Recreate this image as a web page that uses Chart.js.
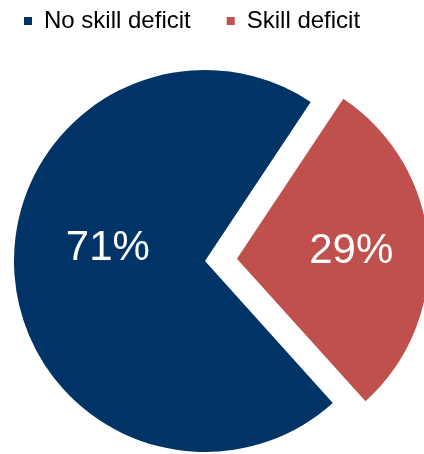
<!DOCTYPE html>
<html>
<head>
<meta charset="utf-8">
<script src="https://cdn.jsdelivr.net/npm/chart.js@4/dist/chart.umd.min.js"></script>
<style>
  html, body { margin: 0; padding: 0; background: #ffffff; }
  #wrap { width: 424px; height: 454px; position: relative; }
</style>
</head>
<body>
<div id="wrap"><canvas id="pie"></canvas></div>
<script>
// Share of respondents by skill status
const categories = ['No skill deficit', 'Skill deficit'];
const shares = [71, 29];
const sliceLabels = ['71%', '29%'];

const sliceColors = ['#003366', '#C0504D'];

// Writes the percentage inside each slice, following the slice's own geometry
const sliceLabelPlugin = {
  id: 'sliceLabels',
  afterDatasetsDraw(chart, args, opts) {
    const { ctx } = chart;
    const meta = chart.getDatasetMeta(0);
    ctx.save();
    ctx.fillStyle = opts.color;
    ctx.font = opts.font;
    ctx.textAlign = 'center';
    ctx.textBaseline = 'middle';
    meta.data.forEach((arc, i) => {
      const p = arc.getProps(['x', 'y', 'startAngle', 'endAngle', 'outerRadius'], true);
      const mid = (p.startAngle + p.endAngle) / 2;
      const shift = (arc.options.offset || 0) / 4;
      const r = shift + p.outerRadius * opts.radius[i];
      const x = p.x + Math.cos(mid) * r;
      const y = p.y + Math.sin(mid) * r + opts.dy[i];
      ctx.fillText(sliceLabels[i], x, y);
    });
    ctx.restore();
  }
};

// Nudges the legend block up and to the left after layout, so the wide
// gap between its two entries doesn't push it down into the pie
const legendNudgePlugin = {
  id: 'legendNudge',
  afterLayout(chart, args, opts) {
    const lg = chart.legend;
    if (!lg) return;
    lg.left += opts.dx; lg.right += opts.dx;
    lg.top += opts.dy; lg.bottom += opts.dy;
  }
};

new Chart(document.getElementById('pie'), {
  type: 'pie',
  data: {
    labels: categories,
    datasets: [{
      data: shares,
      backgroundColor: sliceColors,
      borderWidth: 0,
      offset: [0, 128],
      hoverOffset: 0,
      clip: false
    }]
  },
  options: {
    responsive: true,
    maintainAspectRatio: false,
    animation: false,
    rotation: 138,
    radius: 191,
    layout: {
      padding: { left: 0, right: 14, top: 0, bottom: 2 }
    },
    events: [],
    plugins: {
      tooltip: { enabled: false },
      legend: {
        position: 'top',
        align: 'start',
        labels: {
          boxWidth: 8,
          boxHeight: 8,
          padding: 36,
          color: '#000000',
          font: { family: '"Liberation Sans", Arial, sans-serif', size: 24 }
        }
      },
      legendNudge: { dx: -12, dy: -27 },
      sliceLabels: {
        color: '#ffffff',
        font: '42px "Liberation Sans", Arial, sans-serif',
        radius: [0.51, 0.6],
        dy: [-20, 1.5]
      }
    }
  },
  plugins: [sliceLabelPlugin, legendNudgePlugin]
});
</script>
</body>
</html>
